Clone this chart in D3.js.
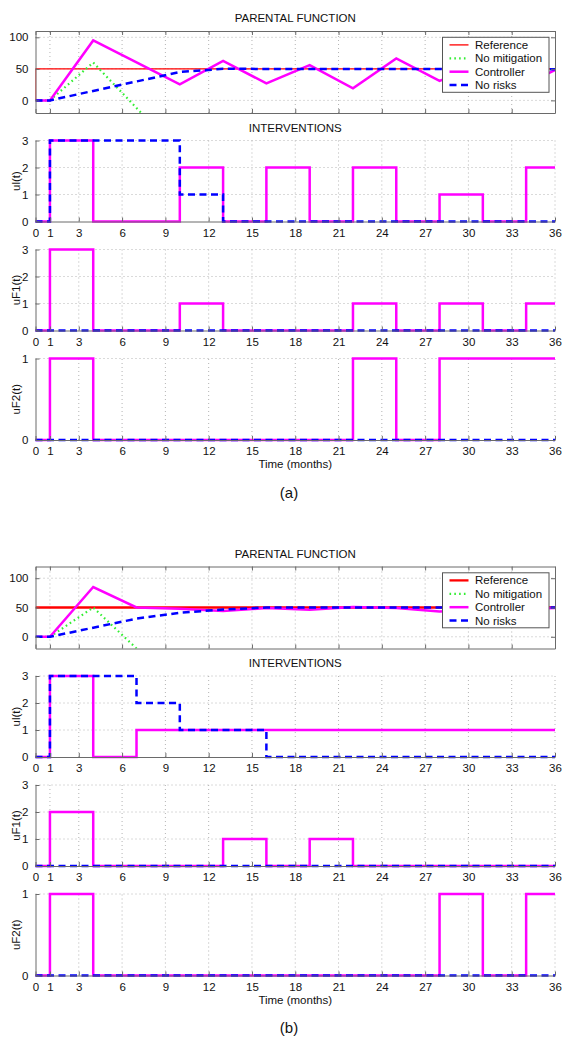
<!DOCTYPE html>
<html>
<head>
<meta charset="utf-8">
<script src="https://cdn.jsdelivr.net/npm/d3@7"></script>
<style>
  html, body { margin: 0; padding: 0; background: #fff; }
  svg { display: block; }
  text { font-family: "Liberation Sans", Arial, sans-serif; fill: #111; }
</style>
</head>
<body>
<script>
// ---------- data ----------
const xTicks = [0, 1, 3, 6, 9, 12, 15, 18, 21, 24, 27, 30, 33, 36];
const pfTicks = [0, 50, 100];
const u3Ticks = [0, 1, 2, 3];
const u1Ticks = [0, 1];
const legendLabels = ["Reference", "No mitigation", "Controller", "No risks"];

// Panel (a) parental function
const aRefT = [0, 0, 36], aRefV = [0, 50, 50];
const aNoMitT = [0, 1, 4, 7, 10], aNoMitV = [0, 0, 60, -12, -84];
const aCtrlT = [0, 1, 4, 10, 13, 16, 19, 22, 25, 28, 31, 34, 36];
const aCtrlV = [0, 0, 95, 25.5, 62.5, 27, 56, 19, 66.5, 31, 58, 26, 48];
const aNoRiskT = [0, 1, 10, 13, 36], aNoRiskV = [0, 0, 45, 50, 49.5];
// Panel (a) interventions (step after)
const aUlT = [0, 1, 4, 10, 13, 16, 19, 22, 25, 28, 31, 34, 36];
const aUlCtrl = [0, 3, 0, 2, 0, 2, 0, 2, 0, 1, 0, 2, 2];
const aUlNoRiskT = [0, 1, 10, 13, 36], aUlNoRisk = [0, 3, 1, 0, 0];
const aUF1T = [0, 1, 4, 10, 13, 22, 25, 28, 31, 34, 36];
const aUF1Ctrl = [0, 3, 0, 1, 0, 1, 0, 1, 0, 1, 1];
const aUF2T = [0, 1, 4, 22, 25, 28, 36];
const aUF2Ctrl = [0, 1, 0, 1, 0, 1, 1];
const zeroT = [0, 36], zeroV = [0, 0];

// Panel (b) parental function
const bRefT = [0, 36], bRefV = [50, 50];
const bNoMitT = [0, 1, 4, 7, 10], bNoMitV = [0, 0, 50, -20, -90];
const bCtrlT = [0, 1, 4, 7, 10, 13, 16, 19, 22, 25, 28, 31, 34, 36];
const bCtrlV = [0, 0, 85, 50, 48, 44, 49, 46, 51, 49, 43, 46, 48, 49];
const bNoRiskT = [0, 1, 4, 7, 10, 13, 16, 36], bNoRiskV = [0, 0, 15.5, 31, 41, 46.5, 50, 50];
// Panel (b) interventions
const bUlT = [0, 1, 4, 7, 36], bUlCtrl = [0, 3, 0, 1, 1];
const bUlNoRiskT = [0, 1, 7, 10, 16, 36], bUlNoRisk = [0, 3, 2, 1, 0, 0];
const bUF1T = [0, 1, 4, 13, 16, 19, 22, 36], bUF1Ctrl = [0, 2, 0, 1, 0, 1, 0, 0];
const bUF2T = [0, 1, 4, 28, 31, 34, 36], bUF2Ctrl = [0, 1, 0, 1, 0, 1, 1];

// ---------- drawing ----------
const W = 571, H = 1050;
const svg = d3.select("body").append("svg").attr("width", W).attr("height", H);
const X0 = 35.5, X1 = 555;
const x = d3.scaleLinear().domain([0, 36]).range([X0, X1]);
const FS = 11.5;
const AX = "#6a6a6a", GRID = "#b4b4b4";
const C_REF = "#ff0000", C_NOMIT = "#33ee33", C_CTRL = "#ff00ff", C_NORISK = "#0000ff";

const zip = (t, v) => t.map((d, i) => [d, v[i]]);
let clipId = 0;

function grid(g, y, yTicks, box) {
  const [yb, yt] = y.range();
  g.selectAll(null).data(xTicks.filter(d => d > 0 && (box ? d < 36 : true))).enter().append("line")
    .attr("x1", d => x(d)).attr("x2", d => x(d)).attr("y1", yb).attr("y2", yt)
    .attr("stroke", GRID).attr("stroke-width", 1).attr("stroke-dasharray", "1,3");
  g.selectAll(null).data(yTicks.filter(d => d > y.domain()[0])).enter().append("line")
    .attr("x1", X0).attr("x2", X1).attr("y1", d => y(d)).attr("y2", d => y(d))
    .attr("stroke", GRID).attr("stroke-width", 1).attr("stroke-dasharray", "1,3");
}

function axesFrame(g, y, yTicks, box, xLabels) {
  const [yb, yt] = y.range();
  const TL = 4;
  // bottom axis
  const ax = d3.axisBottom(x).tickValues(xTicks).tickSizeInner(-TL).tickSizeOuter(0)
    .tickFormat(xLabels ? d3.format("d") : () => "").tickPadding(7);
  const gx = g.append("g").attr("transform", `translate(0,${yb})`).call(ax);
  gx.select(".domain").attr("stroke", AX);
  gx.selectAll(".tick line").attr("stroke", AX);
  gx.selectAll("text").attr("font-size", FS).attr("font-family", "Liberation Sans, Arial, sans-serif").attr("fill", "#111");
  // left axis
  const ay = d3.axisLeft(y).tickValues(yTicks).tickSizeInner(-TL).tickSizeOuter(0).tickPadding(7)
    .tickFormat(d3.format("d"));
  const gy = g.append("g").attr("transform", `translate(${X0},0)`).call(ay);
  gy.select(".domain").attr("stroke", AX);
  gy.selectAll(".tick line").attr("stroke", AX);
  gy.selectAll("text").attr("font-size", FS).attr("font-family", "Liberation Sans, Arial, sans-serif").attr("fill", "#111");
  if (box) {
    const at = d3.axisTop(x).tickValues(xTicks).tickSizeInner(-TL).tickSizeOuter(0).tickFormat(() => "");
    const gt = g.append("g").attr("transform", `translate(0,${yt})`).call(at);
    gt.select(".domain").attr("stroke", AX);
    gt.selectAll(".tick line").attr("stroke", AX);
    const ar = d3.axisRight(y).tickValues(yTicks).tickSizeInner(-TL).tickSizeOuter(0).tickFormat(() => "");
    const gr = g.append("g").attr("transform", `translate(${X1},0)`).call(ar);
    gr.select(".domain").attr("stroke", AX);
    gr.selectAll(".tick line").attr("stroke", AX);
  }
}

function series(g, pts, color, width, dash, curve) {
  const line = d3.line().x(d => x(d[0])).y(d => this_y(d[1]));
  return { pts, color, width, dash, curve };
}

function drawLine(g, y, pts, color, width, dash, curve) {
  const line = d3.line().x(d => x(d[0])).y(d => y(d[1])).curve(curve || d3.curveLinear);
  g.append("path").datum(pts).attr("d", line).attr("fill", "none")
    .attr("stroke", color).attr("stroke-width", width)
    .attr("stroke-dasharray", dash || null).attr("stroke-linejoin", "miter").attr("stroke-linecap", "butt");
}

function parentalPanel(cfg) {
  const y = d3.scaleLinear().domain(cfg.domain).range([cfg.bottom, cfg.top]);
  const g = svg.append("g");
  g.append("text").attr("x", (X0 + X1) / 2).attr("y", cfg.titleY).attr("text-anchor", "middle")
    .attr("dominant-baseline", "central").attr("font-size", FS).text("PARENTAL FUNCTION");
  grid(g, y, pfTicks, true);
  const id = "clip" + (clipId++);
  svg.append("clipPath").attr("id", id).append("rect")
    .attr("x", X0).attr("y", cfg.top).attr("width", X1 - X0).attr("height", cfg.bottom - cfg.top);
  const gl = g.append("g").attr("clip-path", `url(#${id})`);
  drawLine(gl, y, zip(cfg.refT, cfg.refV), C_REF, cfg.refW);
  drawLine(gl, y, zip(cfg.nmT, cfg.nmV), C_NOMIT, 2.2, "1.6,3.2");
  drawLine(gl, y, zip(cfg.ctT, cfg.ctV), C_CTRL, 2.5);
  drawLine(gl, y, zip(cfg.nrT, cfg.nrV), C_NORISK, 2.5, "7,4.5");
  axesFrame(g, y, pfTicks, true, false);
  // legend
  const lx = 442.5, lw = 106.5, lt = cfg.top + 6.3, lh = 55;
  const lg = g.append("g");
  lg.append("rect").attr("x", lx).attr("y", lt).attr("width", lw).attr("height", lh)
    .attr("fill", "#fff").attr("stroke", "#555").attr("stroke-width", 1);
  const rows = [
    { c: C_REF, w: cfg.refW, dash: null },
    { c: C_NOMIT, w: 2.2, dash: "1.6,3.2" },
    { c: C_CTRL, w: 2.5, dash: null },
    { c: C_NORISK, w: 2.5, dash: "7,4.5" }
  ];
  legendLabels.forEach((lab, i) => {
    const ry = lt + 7.6 + i * 13.4;
    lg.append("line").attr("x1", lx + 7).attr("x2", lx + 26).attr("y1", ry).attr("y2", ry)
      .attr("stroke", rows[i].c).attr("stroke-width", rows[i].w).attr("stroke-dasharray", rows[i].dash);
    lg.append("text").attr("x", lx + 32.5).attr("y", ry).attr("dominant-baseline", "central")
      .attr("font-size", FS).text(lab);
  });
}

function uPanel(cfg) {
  const y = d3.scaleLinear().domain([0, cfg.max]).range([cfg.bottom, cfg.top]);
  const ticks = cfg.max === 3 ? u3Ticks : u1Ticks;
  const g = svg.append("g");
  grid(g, y, ticks, false);
  drawLine(g, y, zip(cfg.ctT, cfg.ctV), C_CTRL, 2.5, null, d3.curveStepAfter);
  drawLine(g, y, zip(cfg.nrT, cfg.nrV), C_NORISK, 2.5, "7,4.5", d3.curveStepAfter);
  axesFrame(g, y, ticks, false, true);
  g.append("text").attr("transform", `translate(16,${(cfg.top + cfg.bottom) / 2}) rotate(-90)`)
    .attr("text-anchor", "middle").attr("dominant-baseline", "central").attr("font-size", FS).text(cfg.label);
}

function figure(off, P) {
  parentalPanel(Object.assign({ top: 31 + off, bottom: 113 + off, titleY: 18 + off }, P.pf));
  svg.append("text").attr("x", (X0 + X1) / 2).attr("y", 127.5 + off).attr("text-anchor", "middle")
    .attr("dominant-baseline", "central").attr("font-size", FS).text("INTERVENTIONS");
  uPanel(Object.assign({ top: 140.5 + off, bottom: 221.5 + off, max: 3, label: "ul(t)" }, P.ul));
  uPanel(Object.assign({ top: 249.5 + off, bottom: 330.5 + off, max: 3, label: "uF1(t)" }, P.f1));
  uPanel(Object.assign({ top: 358.5 + off, bottom: 440 + off, max: 1, label: "uF2(t)" }, P.f2));
  svg.append("text").attr("x", (X0 + X1) / 2).attr("y", 464 + off).attr("text-anchor", "middle")
    .attr("dominant-baseline", "central").attr("font-size", FS).text("Time (months)");
  svg.append("text").attr("x", 289).attr("y", 492 + off).attr("text-anchor", "middle")
    .attr("dominant-baseline", "central").attr("font-size", 15)
    .attr("font-family", "Liberation Serif, Times New Roman, serif").text(P.tag);
}

figure(0, {
  tag: "(a)",
  pf: { domain: [-20, 110], refT: aRefT, refV: aRefV, refW: 1.3, nmT: aNoMitT, nmV: aNoMitV,
        ctT: aCtrlT, ctV: aCtrlV, nrT: aNoRiskT, nrV: aNoRiskV },
  ul: { ctT: aUlT, ctV: aUlCtrl, nrT: aUlNoRiskT, nrV: aUlNoRisk },
  f1: { ctT: aUF1T, ctV: aUF1Ctrl, nrT: zeroT, nrV: zeroV },
  f2: { ctT: aUF2T, ctV: aUF2Ctrl, nrT: zeroT, nrV: zeroV }
});
figure(535.5, {
  tag: "(b)",
  pf: { domain: [-20, 120], refT: bRefT, refV: bRefV, refW: 2.3, nmT: bNoMitT, nmV: bNoMitV,
        ctT: bCtrlT, ctV: bCtrlV, nrT: bNoRiskT, nrV: bNoRiskV },
  ul: { ctT: bUlT, ctV: bUlCtrl, nrT: bUlNoRiskT, nrV: bUlNoRisk },
  f1: { ctT: bUF1T, ctV: bUF1Ctrl, nrT: zeroT, nrV: zeroV },
  f2: { ctT: bUF2T, ctV: bUF2Ctrl, nrT: zeroT, nrV: zeroV }
});
</script>
</body>
</html>
